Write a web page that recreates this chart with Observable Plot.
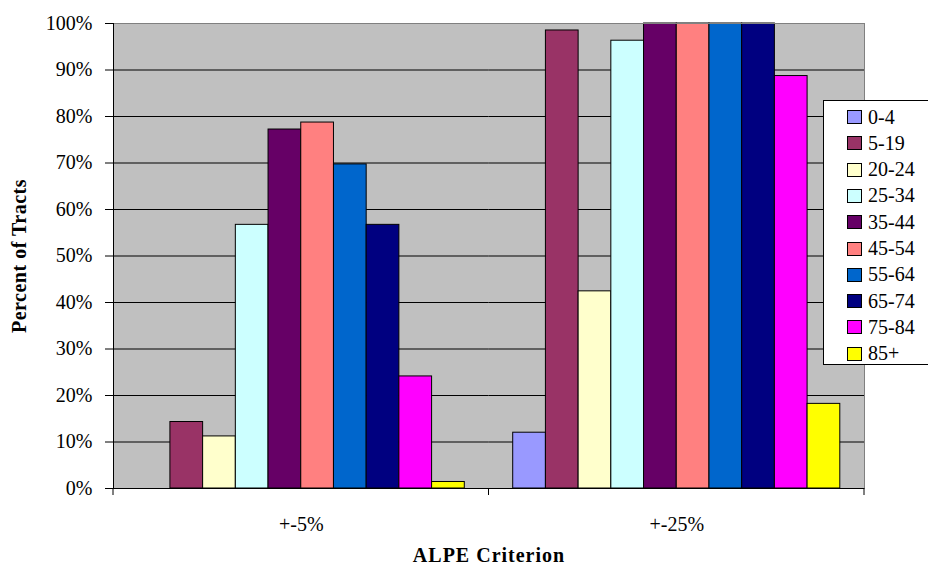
<!DOCTYPE html>
<html>
<head>
<meta charset="utf-8">
<script src="https://cdn.jsdelivr.net/npm/d3@7"></script>
<script src="https://cdn.jsdelivr.net/npm/@observablehq/plot@0.6"></script>
<style>
  html, body { margin: 0; padding: 0; background: #fff; }
  #wrap { position: relative; width: 928px; height: 565px; font-family: "Liberation Serif", serif; }
  #wrap svg { position: absolute; left: 0; top: 0; }
  #wrap svg text { font-family: "Liberation Serif", serif !important; }
  [aria-label="y-axis label"] text, [aria-label="fx-axis label"] text { font-weight: bold; }
  [aria-label="y-axis label"] text { letter-spacing: 0.5px; }
  [aria-label="fx-axis label"] text { letter-spacing: 1px; }
  #legend { position: absolute; left: 823px; top: 100px; width: 110px; height: 265px; border: 1px solid #000; background: #fff; box-sizing: border-box; }
  .item { position: absolute; left: 23px; height: 26px; display: flex; align-items: center; font-size: 20px; color: #000; font-family: "Liberation Serif", serif; }
  .sw { width: 15px; height: 14px; border: 1px solid #000; box-sizing: border-box; margin-right: 6px; }
</style>
</head>
<body>
<div id="wrap"><div id="legend"></div></div>
<script>
const ages = ["0-4", "5-19", "20-24", "25-34", "35-44", "45-54", "55-64", "65-74", "75-84", "85+"];
const criteria = ["+-5%", "+-25%"];
const pct5 = [0, 14.3, 11.2, 56.7, 77.2, 78.7, 69.7, 56.7, 24.1, 1.4];
const pct25 = [12.0, 98.5, 42.4, 96.3, 100, 100, 100, 100, 88.7, 18.2];
const colors = ["#9999FF", "#993366", "#FFFFCC", "#CCFFFF", "#660066", "#FF8080", "#0066CC", "#000080", "#FF00FF", "#FFFF00"];
const yTicks = [0, 10, 20, 30, 40, 50, 60, 70, 80, 90, 100];

const series = [pct5, pct25];
const data = [];
criteria.forEach((c, i) => ages.forEach((a, j) => data.push({crit: c, age: a, value: series[i][j]})));

// small category-boundary ticks under the axis, at each facet's edges
function groupTicks(index, scales) {
  const [a, b] = scales.x.range();
  const y0 = scales.y(0);
  const ns = "http://www.w3.org/2000/svg";
  const g = document.createElementNS(ns, "g");
  for (const xx of [a, b]) {
    const l = document.createElementNS(ns, "line");
    l.setAttribute("x1", xx); l.setAttribute("x2", xx);
    l.setAttribute("y1", y0); l.setAttribute("y2", y0 + 7);
    l.setAttribute("stroke", "#000");
    g.appendChild(l);
  }
  return g;
}

const chart = Plot.plot({
  width: 928,
  height: 565,
  marginLeft: 113,
  marginRight: 64,
  marginTop: 23,
  marginBottom: 77,
  style: {fontFamily: "'Liberation Serif', serif", fontSize: "20px", background: "transparent"},
  fx: {domain: criteria, padding: 0, round: false},
  x: {domain: ages, paddingInner: 0, paddingOuter: 0.74, round: false, axis: null},
  y: {domain: [0, 100]},
  color: {domain: ages, range: colors},
  marks: [
    Plot.frame({fill: "#C0C0C0", stroke: null, facet: "super"}),
    Plot.gridY(yTicks.filter(d => d > 0 && d < 100), {stroke: "#000", strokeOpacity: 1}),
    Plot.barY(data, {fx: "crit", x: "age", y: "value", fill: "age", stroke: "#000", strokeWidth: 1, filter: d => d.value > 0}),
    Plot.frame({anchor: "top", stroke: "#808080", strokeOpacity: 1, facet: "super"}),
    Plot.frame({anchor: "right", stroke: "#808080", strokeOpacity: 1, facet: "super"}),
    Plot.frame({anchor: "left", stroke: "#000", strokeOpacity: 1, facet: "super"}),
    Plot.ruleY([0], {stroke: "#000"}),
    groupTicks,
    Plot.axisY({ticks: yTicks, tickFormat: d => d + "%", tickSize: 8, tickPadding: 13, fontSize: 20,
      label: "Percent of Tracts", labelArrow: "none", labelAnchor: "center", labelOffset: 102}),
    Plot.axisFx({anchor: "bottom", tickSize: 0, tickPadding: 28, fontSize: 20,
      label: "ALPE Criterion", labelArrow: "none", labelAnchor: "center", labelOffset: 73})
  ]
});
document.getElementById("wrap").prepend(chart);

const legend = document.getElementById("legend");
ages.forEach((a, i) => {
  const it = document.createElement("div");
  it.className = "item";
  it.style.top = (3 + i * 26.3) + "px";
  const sw = document.createElement("div");
  sw.className = "sw";
  sw.style.background = colors[i];
  const t = document.createElement("span");
  t.textContent = a;
  it.appendChild(sw); it.appendChild(t);
  legend.appendChild(it);
});
</script>
</body>
</html>
